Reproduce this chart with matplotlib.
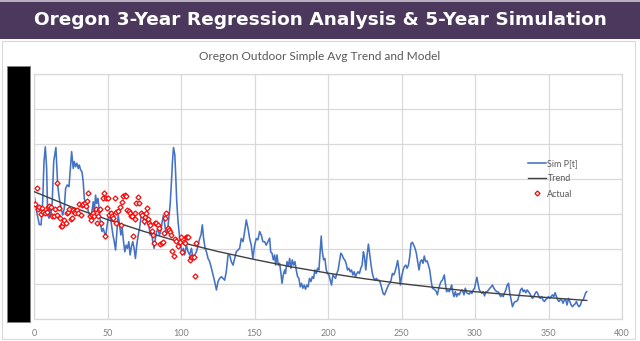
import matplotlib
matplotlib.use("Agg")
import matplotlib.pyplot as plt
from matplotlib.patches import Rectangle
from matplotlib.lines import Line2D

# simulated price path P[t]
sim_x = [0.5, 1.8, 3.6, 4.8, 5.9, 6.8, 7.7, 8.6, 9.3, 10.2, 10.9, 11.5, 12.4, 13.4, 14.9, 16.1, 17.2, 18.3,
         19.5, 20.6, 21.5, 22.6, 23.8, 24.7, 25.6, 26.7, 27.4, 28.3, 29.2, 30.1, 30.8, 31.7, 32.6, 33.5, 34.2,
         35.1, 36.0, 36.9, 38.0, 39.2, 40.3, 41.0, 41.9, 42.6, 43.5, 44.4, 45.3, 46.2, 47.1, 48.0, 48.9, 49.8,
         50.7, 51.6,
         52.7, 53.7, 54.6, 55.5, 56.4, 57.3, 58.2, 59.1, 60.0, 60.9, 61.8, 62.7, 63.6, 64.5, 65.4, 66.3, 67.2,
         68.1, 69.0, 69.9, 70.9, 71.8, 72.7, 73.6, 74.5, 75.4, 76.3, 77.2, 78.1, 79.0, 79.9, 80.8, 81.7, 82.6,
         83.5, 84.4, 85.3, 86.2, 87.2, 88.1, 89.0, 89.9, 90.8, 91.7, 92.6, 93.5, 94.2, 94.9, 95.8, 96.4, 97.1,
         98.0, 98.9, 99.8, 100.7, 101.6,
         102.5, 103.7, 104.8, 105.9, 107.1, 108.2, 109.3, 110.5, 111.6, 112.7, 113.6, 114.5, 115.4, 116.4,
         117.3, 118.4, 119.5, 120.7, 121.8, 122.9, 124.1, 125.2, 126.3, 127.5, 128.6, 129.7, 130.8, 132.0,
         133.1, 134.2, 135.4, 136.5, 137.6, 138.8, 139.9, 141.0, 142.2, 143.3, 144.4, 145.6, 146.7, 147.8,
         148.9, 150.1, 151.2, 152.3, 153.5, 154.6, 155.7, 156.9, 158.0, 159.1, 160.3,
         161.0, 161.9, 162.8, 163.7, 164.4, 165.3, 166.2, 167.1, 168.0, 168.7, 169.6, 170.5, 171.1, 172.1,
         173.0, 173.9, 174.8, 175.7, 176.6, 177.5, 178.4, 179.3, 180.2, 181.1, 182.0, 182.9, 183.8, 184.7,
         185.6, 186.5, 187.4, 188.4, 189.3, 190.2, 191.1, 192.0, 192.9, 193.8, 194.7, 195.4, 196.0, 197.0,
         197.9, 198.8, 199.7, 200.6, 201.5, 202.4, 203.3, 204.2, 205.1, 206.0, 206.9, 207.8, 208.7, 209.6,
         210.5, 211.4, 212.3, 213.3, 214.2, 215.1, 216.0, 216.9, 217.8, 218.7, 219.6, 220.5, 221.4, 222.3,
         223.2, 224.1, 224.8, 225.7, 226.6, 227.5, 228.4, 229.3, 230.2, 231.1, 232.0, 232.9, 233.9, 234.8,
         235.7, 236.6, 237.5, 238.4, 239.3, 240.2, 241.1, 242.0, 242.9, 243.8, 244.7, 245.6, 246.5, 247.4,
         248.3, 249.2, 250.1, 251.1, 252.0, 252.9, 253.8, 254.7, 255.6, 256.5, 257.4, 258.3, 259.2, 260.1,
         261.0, 261.9, 262.8, 263.7, 264.6, 265.5, 266.4, 267.4, 268.3, 269.2, 270.1, 271.0, 271.9, 272.8,
         273.7, 274.4, 275.1, 276.0, 276.9, 277.8, 278.7,
         279.1, 279.8, 280.7, 281.6, 282.5, 283.4, 284.1, 284.8, 285.7, 286.6, 287.5, 288.4, 289.3, 290.2,
         291.1, 291.8, 292.5, 293.4, 294.3, 295.2, 296.1, 297.0, 297.9, 298.8, 299.7, 300.6, 301.3, 302.0,
         302.9, 303.8, 304.7, 305.6, 306.5, 307.4, 308.3, 309.2, 310.1, 311.0, 311.9, 312.8, 313.7, 314.7,
         315.6, 316.5, 317.4, 318.3, 319.2, 320.1, 321.0, 321.9, 322.8, 323.7, 324.6, 325.5, 326.4, 327.3,
         328.2, 329.1, 330.1, 331.0, 331.9, 332.8, 333.7, 334.6, 335.5, 336.4, 337.3, 338.2, 339.1, 340.0,
         340.9, 341.8, 342.7, 343.6, 344.5, 345.4, 346.3, 347.2, 348.2, 349.1, 350.0, 350.9, 351.8, 352.7,
         353.6, 354.5, 355.4, 356.3, 357.2, 358.1, 359.0, 359.9, 360.8, 361.7, 362.6, 363.6, 364.5, 365.4,
         366.3, 367.2, 368.1, 369.0, 369.9, 370.8, 371.7, 372.6, 373.5, 374.4, 375.3, 376.0]
sim_p = [3.45, 3.07, 2.70, 2.69, 3.35, 4.50, 4.92, 4.30, 2.97, 2.88, 3.16, 2.97, 3.35, 4.50, 4.90, 3.83, 3.45,
         3.21, 2.97, 3.16, 3.73, 3.83, 3.78, 4.30, 4.78, 4.30, 4.50, 4.35, 4.45, 4.30, 4.40, 4.26, 4.21, 3.92,
         3.45, 3.26, 3.35, 3.07, 2.97, 3.02, 3.35, 3.07, 3.54, 3.30, 3.45, 3.11, 2.69, 2.50, 2.59, 2.45, 2.40,
         2.69, 2.92, 3.07,
         2.69, 2.40, 2.21, 1.97, 2.50, 2.97, 2.69, 2.40, 2.59, 2.21, 1.92, 2.11, 2.02, 2.21, 1.83, 2.07, 2.21,
         2.02, 1.73, 2.11, 2.40, 2.59, 2.88, 3.07, 2.88, 2.69, 2.97, 2.88, 2.69, 2.40, 2.50, 2.21, 2.02, 2.30,
         2.50, 2.59, 2.40, 2.50, 2.78, 2.97, 2.69, 2.40, 2.50, 2.88, 3.26, 3.92, 4.50, 4.90, 4.69, 4.11, 3.35,
         2.78, 2.40, 2.11, 1.83, 2.02,
         1.83, 2.11, 1.92, 1.83, 2.02, 1.73, 1.83, 1.92, 2.11, 2.30, 2.40, 2.69, 2.30, 2.02, 1.92, 1.73, 1.64,
         1.45, 1.26, 1.07, 0.83, 1.07, 1.16, 1.21, 1.16, 1.11, 1.35, 1.83, 1.83, 1.64, 1.54, 1.73, 1.92, 1.97,
         2.02, 2.30, 2.21, 2.50, 2.83, 2.59, 2.30, 2.11, 1.73, 2.11, 2.30, 2.26, 2.50, 2.40, 2.21, 2.21, 2.11,
         2.21, 2.31,
         1.92, 1.88, 1.69, 1.83, 1.54, 1.83, 1.54, 1.59, 1.30, 1.02, 1.26, 1.40, 1.30, 1.64, 1.50, 1.73, 1.45,
         1.69, 1.54, 1.64, 1.40, 1.21, 1.16, 0.92, 1.02, 0.88, 0.97, 0.85, 0.97, 0.92, 1.16, 1.07, 1.21, 1.16,
         1.40, 1.30, 1.45, 1.40, 1.97, 2.37, 1.97, 1.69, 1.73, 1.40, 1.30, 1.26, 1.12, 0.97, 1.26, 1.21, 1.16,
         1.30, 1.40, 1.64, 1.88, 1.83, 1.73, 1.69, 1.59, 1.40, 1.45, 1.35, 1.40, 1.26, 1.35, 1.21, 1.30, 1.35,
         1.30, 1.45, 1.54, 1.92, 1.78, 1.40, 1.83, 2.14, 1.83, 1.54, 1.30, 1.16, 1.11, 1.16, 1.10, 1.11, 1.02,
         0.88, 0.73, 0.69, 0.78, 0.88, 0.97, 1.02, 1.11, 1.30, 1.26, 1.35, 1.50, 1.67, 1.40, 0.97, 1.21, 1.40,
         1.50, 1.54, 1.45, 1.54, 1.78, 2.16, 2.19, 2.11, 2.02, 1.88, 1.64, 1.40, 1.64, 1.69, 1.59, 1.80, 1.64,
         1.66, 1.54, 1.40, 1.11, 0.88, 0.86, 0.83, 0.78, 0.69, 0.83, 0.97, 1.07, 1.11, 1.21,
         1.26, 1.02, 0.78, 0.83, 0.78, 0.88, 0.97, 0.78, 0.64, 0.78, 0.64, 0.73, 0.69, 0.78, 0.83, 0.78, 0.69,
         0.88, 0.75, 0.73, 0.71, 0.78, 0.73, 0.83, 0.88, 1.07, 1.19, 1.02, 0.83, 0.78, 0.73, 0.78, 0.66, 0.78,
         0.78, 0.83, 0.88, 0.92, 0.97, 0.88, 0.83, 0.78, 0.78, 0.73, 0.64, 0.69, 0.64, 0.75, 0.83, 0.97, 1.02,
         0.73, 0.54, 0.35, 0.45, 0.50, 0.50, 0.54, 0.69, 0.83, 0.88, 0.78, 0.83, 0.75, 0.83, 0.78, 0.73, 0.64,
         0.59, 0.64, 0.73, 0.78, 0.73, 0.62, 0.59, 0.64, 0.54, 0.50, 0.56, 0.59, 0.64, 0.59, 0.64, 0.69, 0.64,
         0.75, 0.64, 0.54, 0.50, 0.56, 0.54, 0.45, 0.54, 0.56, 0.40, 0.59, 0.50, 0.40, 0.35, 0.40, 0.43, 0.50,
         0.40, 0.35, 0.40, 0.52, 0.54, 0.64, 0.75, 0.78]

# regression trend
trend_x = [0, 25, 50, 75, 100, 125, 150, 175, 200, 225, 250, 275, 300, 325, 350, 376]
trend_p = [3.64, 3.21, 2.84, 2.50, 2.19, 1.93, 1.70, 1.49, 1.31, 1.15, 1.01, 0.89, 0.78, 0.69, 0.61, 0.53]

# observed averages
act_x = [0.7, 1.8, 2.9, 3.6, 4.5, 5.2, 6.3, 7.5, 8.6, 9.7, 10.4, 11.3, 12.5, 13.6, 14.3, 15.4, 15.9, 16.8,
         17.7, 18.3, 19.2, 19.9, 20.6, 21.5, 22.2, 22.9, 23.8, 24.9, 25.6, 26.3, 27.2, 28.1, 29.0, 29.9, 30.6,
         31.7, 32.4, 33.5, 34.6, 35.3, 36.2, 36.9, 38.0, 38.5, 39.2, 39.8, 41.0, 41.9, 42.6, 43.2, 44.1, 44.8,
         45.7, 46.6, 47.5, 48.2, 48.9, 49.4, 50.5, 51.2, 52.1, 53.0, 53.9, 54.8, 55.5, 56.1, 57.3, 58.4, 58.9,
         60.2, 60.7, 61.8, 62.5, 63.4, 64.3, 65.2, 66.1, 67.0, 67.5, 68.4, 69.0, 69.7, 70.9, 71.5, 72.9, 73.8,
         74.7, 75.6, 76.1, 77.0, 77.7, 78.3, 79.2, 80.1, 81.0, 81.7, 82.4, 83.3, 84.2, 85.1, 86.0, 86.9, 87.8,
         88.7, 89.4, 90.1, 91.0, 91.7, 92.4, 93.3, 94.2, 95.1, 96.2, 96.9, 98.0, 99.2, 100.3, 101.0, 101.9,
         102.6, 103.2, 104.1, 105.0, 105.9, 106.9, 107.8, 108.7, 109.6, 110.5]
act_p = [3.30, 3.73, 3.13, 3.21, 2.99, 3.16, 3.07, 3.04, 3.07, 3.21, 3.23, 3.19, 2.94, 2.94, 3.13, 3.88, 2.97,
         3.16, 2.88, 2.66, 2.66, 2.73, 2.83, 2.73, 3.02, 3.07, 3.13, 2.85, 2.90, 3.11, 3.07, 3.02, 3.11, 3.02,
         3.29, 2.97, 3.26, 3.29, 3.32, 3.23, 3.38, 3.59, 2.94, 2.83, 2.97, 3.02, 2.94, 3.13, 2.73, 2.94, 3.11,
         3.13, 2.73, 3.45, 3.61, 2.37, 3.45, 3.16, 3.45, 2.97, 3.02, 2.94, 2.90, 3.45, 2.75, 3.07, 3.09, 3.21,
         2.69, 3.35, 3.51, 3.54, 3.51, 3.11, 3.10, 3.02, 2.94, 2.94, 2.37, 2.85, 3.02, 3.32, 3.48, 3.32, 3.04,
         2.97, 2.81, 2.92, 3.02, 3.16, 2.87, 2.73, 2.69, 2.52, 2.40, 2.16, 2.73, 2.73, 2.69, 2.59, 2.14, 2.18,
         2.21, 2.45, 2.88, 3.02, 2.59, 2.54, 2.49, 2.40, 1.95, 1.80, 2.28, 2.24, 2.09, 2.21, 2.35, 1.92, 2.21,
         2.16, 2.33, 2.33, 2.35, 1.70, 1.76, 1.78, 1.78, 1.23, 2.18]

x_ticks = [0, 50, 100, 150, 200, 250, 300, 350, 400]

header = "Oregon 3-Year Regression Analysis & 5-Year Simulation"
title = "Oregon Outdoor Simple Avg Trend and Model"

W, H = 640, 341
fig = plt.figure(figsize=(W / 100, H / 100), dpi=100)

# banner across the top
fig.patches.append(Rectangle((0, 1 - 39 / H), 1, 39 / H, transform=fig.transFigure,
                             facecolor="#4b385c", edgecolor="none", zorder=0))
fig.patches.append(Rectangle((0, 1 - 1.5 / H), 1, 1.5 / H, transform=fig.transFigure,
                             facecolor="#b8b0bf", edgecolor="none", zorder=1))
fig.text(0.5, 1 - 20 / H, header, ha="center", va="center", color="white",
         fontsize=13.3, fontweight="bold", family="DejaVu Sans")

# chart frame
fig.patches.append(Rectangle((1.5 / W, 2 / H), 633 / W, 298 / H, transform=fig.transFigure,
                             facecolor="none", edgecolor="#d9d9d9", lw=0.8, zorder=0))
fig.text(320 / W, 1 - 57 / H, title, ha="center", va="center", color="#595959",
         fontsize=8.6, family="Lato")

ax = fig.add_axes([34 / W, 22 / H, 588 / W, 245 / H])
ax.set_xlim(0, 400)
ax.set_ylim(0, 7)
ax.set_xticks(x_ticks)
ax.set_yticks(range(8))
ax.set_yticklabels([])
ax.grid(True, color="#d9d9d9", lw=0.9)
ax.set_axisbelow(True)
for s in ax.spines.values():
    s.set_color("#d9d9d9")
    s.set_linewidth(0.9)
ax.tick_params(length=0, labelsize=6.5, labelcolor="#7f7f7f", pad=7)
for lab in ax.get_xticklabels():
    lab.set_family("Lato")

ax.plot(sim_x, sim_p, color="#4472c4", lw=1.15, zorder=2)
ax.plot(trend_x, trend_p, color="#404040", lw=1.0, zorder=3)
ax.plot(act_x, act_p, ls="none", marker="D", ms=2.6, mfc="white", mec="#ff0000", mew=0.85, zorder=4)

handles = [Line2D([], [], color="#4472c4", lw=1.15),
           Line2D([], [], color="#404040", lw=1.0),
           Line2D([], [], ls="none", marker="D", ms=2.6, mfc="white", mec="#ff0000", mew=0.85)]
leg = ax.legend(handles, ["Sim P[t]", "Trend", "Actual"], loc="upper left",
                bbox_to_anchor=(528 / W, 1 - 159 / H), bbox_transform=fig.transFigure,
                frameon=False, fontsize=6.5, handlelength=2.0, handletextpad=0.15,
                labelspacing=0.7, borderpad=0, borderaxespad=0)
for t in leg.get_texts():
    t.set_color("#595959")
    t.set_family("Lato")

# black block over the value axis
fig.patches.append(Rectangle((7 / W, 1 - 322 / H), 23 / W, 256 / H, transform=fig.transFigure,
                             facecolor="black", edgecolor="#808080", lw=0.6, zorder=5))

fig.savefig("out.png", dpi=100)
